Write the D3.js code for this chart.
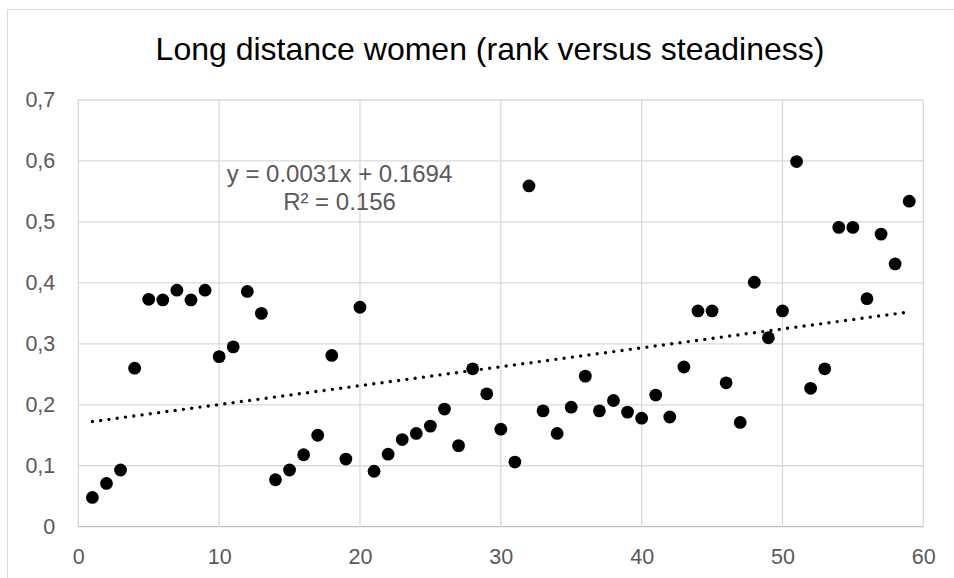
<!DOCTYPE html>
<html>
<head>
<meta charset="utf-8">
<script src="https://cdn.jsdelivr.net/npm/d3@7/dist/d3.min.js"></script>
<style>
  html, body { margin: 0; padding: 0; background: #fff; }
  svg { display: block; }
  text { font-family: "Liberation Sans", Arial, sans-serif; }
</style>
</head>
<body>
<svg id="chart" width="954" height="578"></svg>
<script>
// Finishing rank of each athlete (x) and steadiness score (y)
const ranks = [
  1, 2, 3, 4, 5, 6, 7, 8, 9, 10,
  11, 12, 13, 14, 15, 16, 17, 18, 19, 20,
  21, 22, 23, 24, 25, 26, 27, 28, 29, 30,
  31, 32, 33, 34, 35, 36, 37, 38, 39, 40,
  41, 42, 43, 44, 45, 46, 47, 48, 49, 50,
  51, 52, 53, 54, 55, 56, 57, 58, 59
];
const steadiness = [
  0.048, 0.071, 0.093, 0.260, 0.373, 0.372, 0.388, 0.372, 0.388, 0.279,
  0.295, 0.386, 0.350, 0.077, 0.093, 0.118, 0.150, 0.281, 0.111, 0.360,
  0.091, 0.119, 0.143, 0.153, 0.165, 0.193, 0.133, 0.259, 0.218, 0.160,
  0.106, 0.559, 0.190, 0.153, 0.196, 0.247, 0.190, 0.207, 0.188, 0.178,
  0.216, 0.180, 0.262, 0.354, 0.354, 0.236, 0.171, 0.401, 0.310, 0.354,
  0.599, 0.227, 0.259, 0.491, 0.491, 0.374, 0.480, 0.431, 0.534
];

// Linear trend line and its fit statistics
const trendSlope = 0.0031;
const trendIntercept = 0.1694;
const trendR2 = 0.156;
const trendRange = [1, 59];

// Axis ticks
const xTicks = [0, 10, 20, 30, 40, 50, 60];
const yTicks = [0, 0.1, 0.2, 0.3, 0.4, 0.5, 0.6, 0.7];

const title = "Long distance women (rank versus steadiness)";

const svg = d3.select("#chart");

// chart frame
svg.append("rect")
  .attr("x", 7.5).attr("y", 9.5)
  .attr("width", 1000).attr("height", 700)
  .attr("fill", "#fff")
  .attr("stroke", "#d9d9d9")
  .attr("stroke-width", 1);

const plot = { left: 78.3, right: 923.3, top: 100, bottom: 526.7 };

const x = d3.scaleLinear().domain([0, 60]).range([plot.left, plot.right]);
const y = d3.scaleLinear().domain([0, 0.7]).range([plot.bottom, plot.top]);

// gridlines
svg.append("g")
  .selectAll("line.h")
  .data(yTicks)
  .join("line")
  .attr("x1", plot.left).attr("x2", plot.right)
  .attr("y1", d => y(d)).attr("y2", d => y(d))
  .attr("stroke", d => d === 0 ? "#bfbfbf" : "#d9d9d9")
  .attr("stroke-width", 1.3);

svg.append("g")
  .selectAll("line.v")
  .data(xTicks)
  .join("line")
  .attr("x1", d => x(d)).attr("x2", d => x(d))
  .attr("y1", plot.top).attr("y2", plot.bottom)
  .attr("stroke", "#d9d9d9")
  .attr("stroke-width", 1.3);

// axis labels via d3 axes, with domain lines and tick marks hidden
const fmtY = d => d === 0 ? "0" : d3.format(".1f")(d).replace(".", ",");
const yAxis = d3.axisLeft(y).tickValues(yTicks).tickSize(0).tickPadding(0)
  .tickFormat(fmtY);
const gy = svg.append("g").attr("transform", `translate(${plot.left - 23},0)`).call(yAxis);
gy.select(".domain").remove();
gy.selectAll("text")
  .attr("font-size", 21.5)
  .attr("fill", "#595959")
  .attr("font-family", "'Liberation Sans', Arial, sans-serif");

const xAxis = d3.axisBottom(x).tickValues(xTicks).tickSize(0).tickPadding(0)
  .tickFormat(d3.format("d"));
const gx = svg.append("g").attr("transform", `translate(0,${plot.bottom + 22})`).call(xAxis);
gx.select(".domain").remove();
gx.selectAll("text")
  .attr("font-size", 21.5)
  .attr("fill", "#595959")
  .attr("font-family", "'Liberation Sans', Arial, sans-serif");

// dotted trend line
const trendLine = d3.line()
  .x(d => x(d))
  .y(d => y(trendSlope * d + trendIntercept));
svg.append("path")
  .attr("d", trendLine(trendRange))
  .attr("fill", "none")
  .attr("stroke", "#000")
  .attr("stroke-width", 3.4)
  .attr("stroke-linecap", "round")
  .attr("stroke-dasharray", "0 8.35");

// data points
svg.append("g")
  .selectAll("circle")
  .data(ranks.map((r, i) => [r, steadiness[i]]))
  .join("circle")
  .attr("cx", d => x(d[0]))
  .attr("cy", d => y(d[1]))
  .attr("r", 6.4)
  .attr("fill", "#000");

// trend equation label
const eq = svg.append("text")
  .attr("x", 339.5)
  .attr("text-anchor", "middle")
  .attr("font-size", 24)
  .attr("fill", "#595959");
eq.append("tspan").attr("x", 339.5).attr("y", 181.7)
  .text(`y = ${trendSlope}x + ${trendIntercept}`);
eq.append("tspan").attr("x", 339.5).attr("y", 210)
  .text(`R² = ${trendR2}`);

// title
svg.append("text")
  .attr("x", 490)
  .attr("y", 60)
  .attr("text-anchor", "middle")
  .attr("font-size", 32)
  .attr("fill", "#000")
  .text(title);
</script>
</body>
</html>
